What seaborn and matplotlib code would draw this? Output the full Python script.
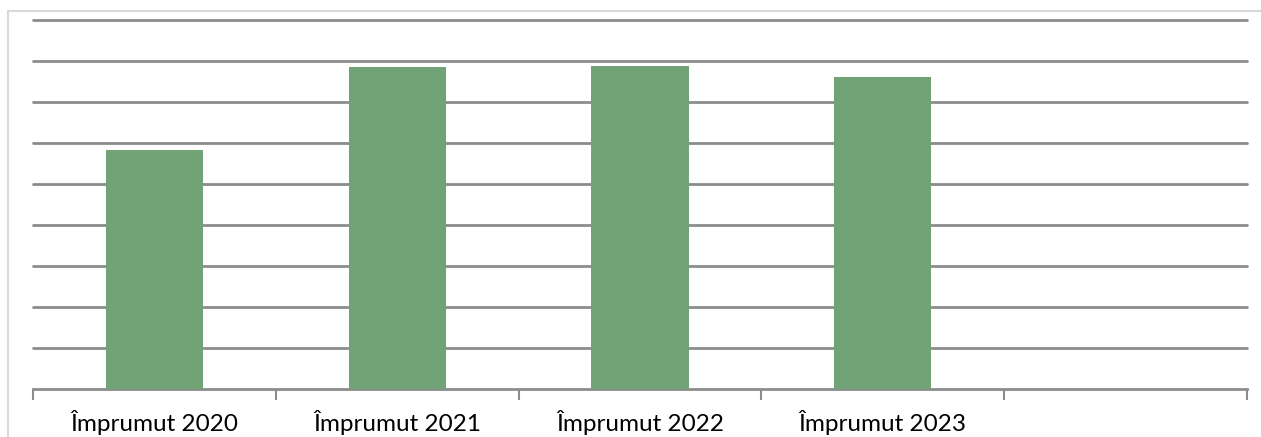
import matplotlib
matplotlib.use("Agg")
import matplotlib.pyplot as plt
import seaborn as sns
from matplotlib.patches import Rectangle

# ==========================
# Data
# ==========================
categories = ["Împrumut 2020", "Împrumut 2021", "Împrumut 2022", "Împrumut 2023"]
values = [5.82, 7.86, 7.88, 7.62]
n_slots = 5  # one empty slot at the right

bar_color = "#72a376"
grid_color = "#8c8c8c"

# ==========================
# Plot
# ==========================
sns.set_style("white")
plt.rcParams["font.family"] = ["Lato", "DejaVu Sans"]

fig = plt.figure(figsize=(12.61, 4.37), dpi=100)
ax = fig.add_axes([33 / 1261, 48 / 437, 1214 / 1261, 369 / 437])

sns.barplot(x=categories, y=values, color=bar_color, width=0.4,
            saturation=1, linewidth=0, ax=ax, zorder=3)

ax.set_xlim(-0.5, n_slots - 0.5)
ax.set_ylim(0, 9)

# horizontal gridlines
for yv in range(1, 10):
    ax.axhline(yv, color=grid_color, lw=2, zorder=1, clip_on=False)

ax.set_yticks([])
for side in ["top", "right", "left"]:
    ax.spines[side].set_visible(False)
ax.spines["bottom"].set_color(grid_color)
ax.spines["bottom"].set_linewidth(2)

# category labels centered, tick marks between categories
ax.set_xticks(range(len(categories)))
ax.set_xticklabels(categories, fontsize=17.5, color="#000000")
ax.tick_params(axis="x", which="major", length=0, pad=15)
ax.set_xticks([i - 0.5 for i in range(n_slots + 1)], minor=True)
ax.tick_params(axis="x", which="minor", length=8, width=1.5,
               color=grid_color, bottom=True)
ax.set_xlabel("")
ax.set_ylabel("")

# chart border
fig.add_artist(Rectangle((7.5 / 1261, -0.1), 1.2, (437 - 11) / 437 + 0.1,
                         transform=fig.transFigure, fill=False,
                         edgecolor="#d9d9d9", lw=1.5))

fig.savefig("out.png", dpi=100)
